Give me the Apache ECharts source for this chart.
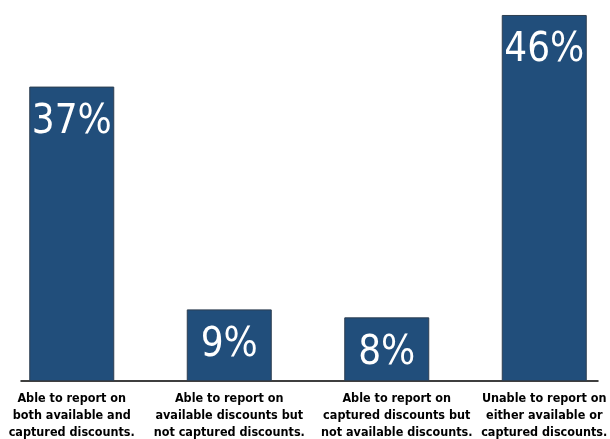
<!DOCTYPE html>
<html>
<head>
<meta charset="utf-8">
<title>Discount reporting capability</title>
<script src="https://cdn.jsdelivr.net/npm/echarts@6/dist/echarts.min.js"></script>
<style>
  html, body { margin: 0; padding: 0; background: #ffffff; }
  #chart { width: 610px; height: 439px; }
</style>
</head>
<body>
<div id="chart"></div>
<script>
// Share of respondents by ability to report on discounts
const categories = [
  'Able to report on\nboth available and\ncaptured discounts.',
  'Able to report on\navailable discounts but\nnot captured discounts.',
  'Able to report on\ncaptured discounts but\nnot available discounts.',
  'Unable to report on\neither available or\ncaptured discounts.'
];
const shares = [37, 9, 8, 46];

const NARROW = "'Liberation Sans Narrow', 'Arial Narrow', 'DejaVu Sans Condensed', sans-serif";
const BAR_BLUE = '#214e7b';

const chart = echarts.init(document.getElementById('chart'), null, { renderer: 'canvas' });

chart.setOption({
  animation: false,
  backgroundColor: '#ffffff',
  grid: [
    { left: -7, right: -13, top: 11, bottom: 58, outerBoundsMode: 'none' },
    // thin frame that only carries the baseline rule
    { left: 21, right: 12, top: 11, bottom: 58, outerBoundsMode: 'none' }
  ],
  xAxis: [
    {
      type: 'category',
      gridIndex: 0,
      data: categories,
      axisLine: { show: false },
      axisTick: { show: false },
      axisLabel: {
        interval: 0,
        hideOverlap: false,
        margin: 9,
        color: '#000000',
        fontFamily: NARROW,
        fontWeight: 'bold',
        fontSize: 12.5,
        lineHeight: 17,
        align: 'center',
        formatter: function (value, idx) {
          return idx === 2 ? '{shift|' + value.split('\n').join('}\n{shift|') + '}' : value;
        },
        rich: {
          shift: {
            color: '#000000',
            fontFamily: NARROW,
            fontWeight: 'bold',
            fontSize: 12.5,
            lineHeight: 17,
            padding: [0, 0, 0, 20]
          }
        }
      }
    },
    {
      type: 'value',
      gridIndex: 1,
      min: 0,
      max: 1,
      axisLine: { show: true, onZero: false, lineStyle: { color: '#000000', width: 1.5 } },
      axisTick: { show: false },
      axisLabel: { show: false },
      splitLine: { show: false }
    }
  ],
  yAxis: [
    { type: 'value', gridIndex: 0, min: 0, max: 46.5, show: false, splitLine: { show: false } },
    { type: 'value', gridIndex: 1, min: 0, max: 1, show: false, splitLine: { show: false } }
  ],
  series: [
    {
      type: 'bar',
      xAxisIndex: 0,
      yAxisIndex: 0,
      data: shares,
      barWidth: 85,
      itemStyle: {
        color: BAR_BLUE,
        borderColor: '#2d3e50',
        borderWidth: 1
      },
      label: {
        show: true,
        position: 'insideTop',
        distance: 16,
        color: '#ffffff',
        fontFamily: NARROW,
        fontSize: 40,
        formatter: function (p) { return p.value + '%'; }
      }
    }
  ]
});
</script>
</body>
</html>
